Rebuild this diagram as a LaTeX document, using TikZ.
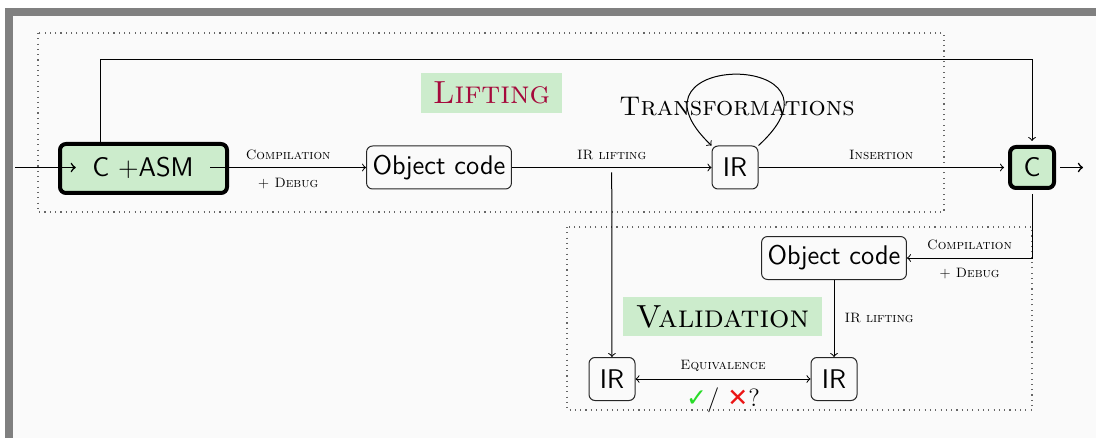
\documentclass[tikz,border=0pt]{standalone}
\usepackage{fontspec}
\newfontfamily\symbfont{DejaVu Sans}
\definecolor{liftgreen}{RGB}{204,236,204}
\definecolor{liftred}{RGB}{165,10,60}
\definecolor{slidebg}{RGB}{250,250,250}
\definecolor{framegray}{RGB}{128,128,128}
\definecolor{okgreen}{RGB}{40,220,40}
\definecolor{kored}{RGB}{235,20,20}
\begin{document}
\begin{tikzpicture}[x=0.5pt, y=-0.5pt, line width=0.5pt,
		box/.style={draw=black!85, rounded corners=3pt, font=\sffamily\fontsize{13.5}{16}\selectfont, minimum height=21.5pt, inner xsep=3pt},
		cbox/.style={box, line width=2pt, draw=black, fill=liftgreen},
		lbl/.style={font=\fontsize{6.8}{8}\selectfont\scshape, inner sep=0pt},
		lblup/.style={lbl, above, yshift=3.7pt},
		lbldown/.style={lbl, below, yshift=-5pt},
		title/.style={font=\fontsize{16}{18}\selectfont\scshape, fill=liftgreen, inner sep=0pt},
		region/.style={draw=black!60, line width=0.55pt, dash pattern=on 0.55pt off 2.1pt}]
		\useasboundingbox (0,0) rectangle (1096,438);
		\fill[white] (0,0) rectangle (1096,438);
		\fill[framegray] (5,8) rectangle (1096,438);
		\fill[slidebg] (13,16) rectangle (1096,438);
		
		\draw[region] (38,33) rectangle (944,212);
		\draw[region] (567,227) rectangle (1032,410);
		
		\node[title, text=liftred, minimum width=70.5pt, minimum height=20pt] (lifting) at (491.5,93) {Lifting};
		\node[title, minimum width=99.5pt, minimum height=19.5pt] (validation) at (722.5,316.5) {Validation};
		\node[font=\fontsize{13.5}{16}\selectfont\scshape] (transfo) at (737,107) {Transformations};
		
		\node[cbox, minimum width=83.5pt, minimum height=24.5pt] (casmbox) at (143.5,168.5) {};
		\node[font=\sffamily\fontsize{13.5}{16}\selectfont, inner xsep=8pt, minimum height=22pt] (casm) at (143,167.5) {C +ASM};
		
		\node[box] (obj1) at (439,167.5) {Object code};
		\node[box, minimum width=23pt] (irtop) at (735,167.5) {IR};
		\node[cbox, minimum width=22pt, minimum height=20.5pt, outer sep=3pt] (c) at (1032,167.5) {C};
		
		\node[box] (obj2) at (834,258) {Object code};
		\node[box, minimum width=23pt] (irl) at (612,379) {IR};
		\node[box, minimum width=23pt] (irr) at (834,379) {IR};
		
		\coordinate (in) at (15,167.5);
		\coordinate (out) at (1083,167.5);
		\coordinate (back) at (100,60);
		
		\draw[->, line width=0.8pt] (in) -- (casm);
		\draw[->] (casm) -- node[lblup, midway] {Compilation} node[lbldown, midway] {+ Debug} (obj1);
		\draw[->] (obj1) -- coordinate[midway] (split) node[lblup, midway] {IR lifting} (irtop);
		\draw[->] ([yshift=-2.5pt]split) -- (irl);
		\draw[->] (irtop) -- node[lblup, midway] {Insertion} (c);
		\draw[->, line width=0.8pt] (c) -- (out);
		\draw[->] (casm.north -| back) -- (back) -| (c.north);
		\draw[->] (irtop.north east) .. controls +(104,-95) and +(-100,-95) .. (irtop.north west);
		
		\draw[->] (c.south) |- node[lblup, pos=.75] {Compilation} node[lbldown, pos=.75] {+ Debug} (obj2.east);
		\draw[->] (obj2) -- node[lbl, right, xshift=5pt, midway] {IR lifting} (irr);
		\draw[<->] (irl) -- node[lblup, midway] {Equivalence} node[midway, yshift=-10.5pt, font=\fontsize{12.5}{14}\selectfont] {{\symbfont\color{okgreen}✓}/ {\symbfont\color{kored}✕}?} (irr);
	\end{tikzpicture}
\end{document}
